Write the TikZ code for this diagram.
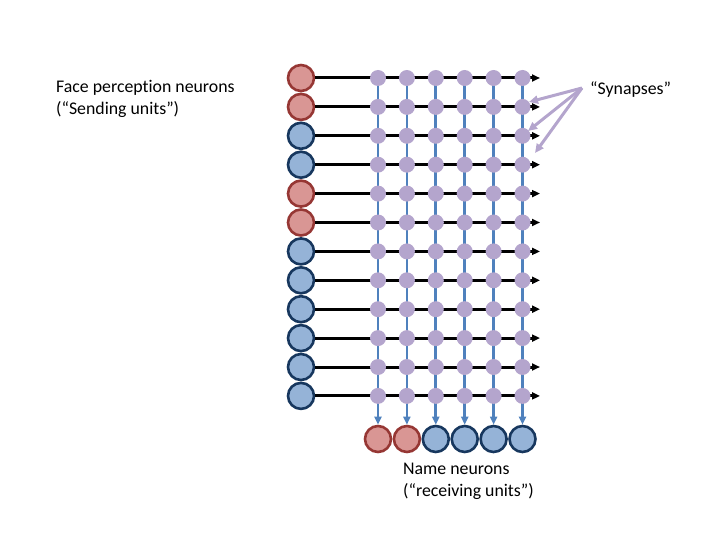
\documentclass[tikz,border=0pt]{standalone}
\usepackage{fontspec}
\setmainfont{Carlito}[Ligatures=NoCommon]
\usetikzlibrary{arrows.meta, positioning}
\definecolor{sendred}{RGB}{217, 150, 148}
\definecolor{sendredline}{RGB}{150, 55, 52}
\definecolor{unitblue}{RGB}{149, 179, 215}
\definecolor{unitblueline}{RGB}{23, 55, 94}
\definecolor{synlilac}{RGB}{180, 165, 205}
\definecolor{wireblue}{RGB}{79, 129, 189}
\tikzset{
  unit/.style={
    circle, minimum size=26pt, inner sep=0pt, line width=2.6pt
  },
  redunit/.style ={unit, fill=sendred,  draw=sendredline},
  blueunit/.style={unit, fill=unitblue, draw=unitblueline},
  synapse/.style={circle, fill=synlilac, minimum size=16pt, inner sep=0pt},
  axon/.style={-{Triangle[length=8pt, width=7pt]}, line width=3pt, black},
  dendrite/.style={-{Triangle[length=8pt, width=7pt]}, line width=2.8pt, wireblue},
  pointer/.style={-{Triangle[length=9pt, width=8pt]}, line width=3pt, synlilac},
  caption/.style={font=\fontsize{17.8}{22}\selectfont, align=left, anchor=north west, inner sep=0pt},
}

\begin{document}
\begin{tikzpicture}[x=1pt, y=-1pt]
  \useasboundingbox (0,0) rectangle (720,540);

  % Sending units
  \foreach \i/\kind in {1/redunit, 2/redunit, 3/blueunit, 4/blueunit, 5/redunit, 6/redunit,
                        7/blueunit, 8/blueunit, 9/blueunit, 10/blueunit, 11/blueunit, 12/blueunit}{
    \node[\kind] (send\i) at (301, {78 + (\i-1)*28.9}) {};
    \coordinate (end\i) at (540, {78 + (\i-1)*28.9});
  }

  % Receiving units
  \foreach \j/\kind in {1/redunit, 2/redunit, 3/blueunit, 4/blueunit, 5/blueunit, 6/blueunit}{
    \node[\kind] (recv\j) at ({378 + (\j-1)*28.9}, 439) {};
  }

  % Synapses
  \foreach \i in {1,...,12}{
    \foreach \j in {1,...,6}{
      \coordinate (syn-\i-\j) at ({378 + (\j-1)*28.9}, {78 + (\i-1)*28.9});
    }
  }

  % Wires
  \foreach \j in {1,...,6}{
    \draw[dendrite] (syn-1-\j) -- (recv\j);
  }
  \foreach \i in {1,...,12}{
    \draw[axon] (send\i) -- (end\i);
  }
  \foreach \i in {1,...,12}{
    \foreach \j in {1,...,6}{
      \node[synapse] at (syn-\i-\j) {};
    }
  }

  % Labels
  \node[caption] (facelabel) at (56, 80) {Face perception neurons\\(“Sending units”)};
  \node[caption] (namelabel) at (403, 463) {Name neurons\\(“receiving units”)};
  \node[caption] (synlabel)  at (590, 81) {“Synapses”};

  % Pointers
  \coordinate (fork) at (582, 88);
  \draw[pointer] (fork) -- (529, 102);
  \draw[pointer] (fork) -- (528, 131);
  \draw[pointer] (fork) -- (535, 153);

\end{tikzpicture}
\end{document}
